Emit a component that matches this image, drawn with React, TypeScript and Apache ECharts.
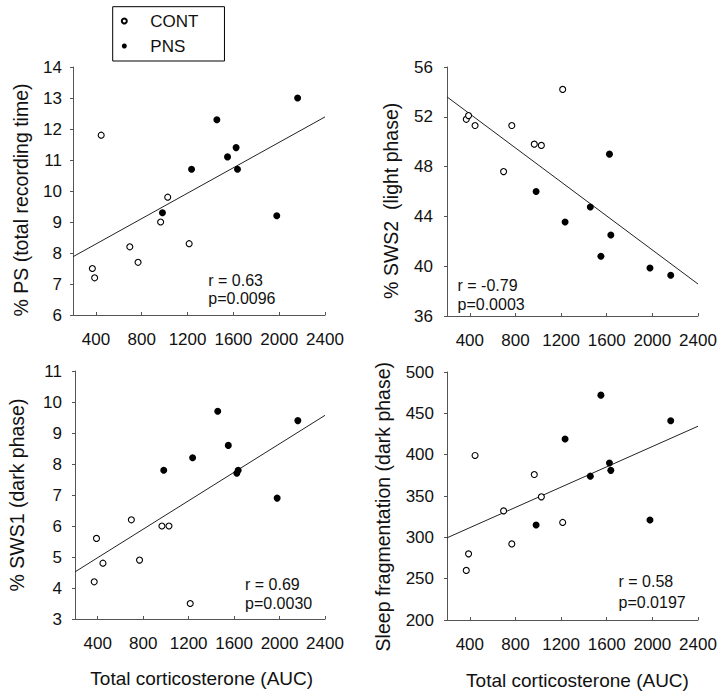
import React, { useEffect, useRef } from "react";
import * as echarts from "echarts";

// ---------- data ----------
const xTicks = [400, 800, 1200, 1600, 2000, 2400];
const contCort = [369, 389, 446, 696, 768, 965, 1027, 1214];
const pnsCort = [981, 1235, 1456, 1549, 1624, 1636, 1979, 2161];

const psCont = [7.5, 7.2, 11.8, 8.2, 7.7, 9.0, 9.8, 8.3];
const psPns = [9.3, 10.7, 12.3, 11.1, 11.4, 10.7, 9.2, 13.0];

const sws2Cont = [51.8, 52.1, 51.3, 47.6, 51.3, 49.8, 49.7, 54.2];
const sws2Pns = [46.0, 43.55, 44.75, 40.8, 49.0, 42.5, 39.85, 39.27];

const sws1Cont = [4.2, 5.6, 4.8, 6.2, 4.9, 6.0, 6.0, 3.5];
const sws1Pns = [7.8, 8.2, 9.7, 8.6, 7.7, 7.8, 6.9, 9.4];

const fragCont = [260, 280, 399, 332, 292, 376, 349, 318];
const fragPns = [315, 419, 374, 472, 390, 381, 321, 441];

const fitX = [200, 2400];
const psFit = [7.88, 12.39];
const sws2Fit = [53.6, 38.57];
const sws1Fit = [4.52, 9.57];
const fragFit = [299.4, 434.4];

const yMin = [6, 36, 3, 200];
const yMax = [14, 56, 11, 500];
const yStep = [1, 4, 1, 50];

const yTitles = [
  "% PS (total recording time)",
  "% SWS2  (light phase)",
  "% SWS1 (dark phase)",
  "Sleep fragmentation (dark phase)",
];
const xTitle = "Total corticosterone (AUC)";
const statR = ["r = 0.63", "r = -0.79", "r = 0.69", "r = 0.58"];
const statP = ["p=0.0096", "p=0.0003", "p=0.0030", "p=0.0197"];
const groupNames = ["CONT", "PNS"];

// ---------- layout ----------
const FONT = '"Liberation Sans", Arial, Helvetica, sans-serif';
const grids = [
  { left: 73, top: 67, width: 252, height: 248 },
  { left: 447, top: 67, width: 251, height: 249 },
  { left: 75, top: 371, width: 250, height: 248 },
  { left: 447, top: 372, width: 251, height: 248 },
];
const yLabelMargin = [11, 14, 13, 13];
const yTitlePos = [
  [20.8, 200],
  [390.7, 200.8],
  [17.3, 495],
  [382.7, 506.7],
];
const xTitlePos = [
  [201.7, 678.3],
  [577.5, 680.8],
];
const statPos = [
  [208.3, 280, 298],
  [457.5, 285, 304.3],
  [245, 584.5, 603.7],
  [618.5, 581.7, 602],
];

export default function App() {
  const ref = useRef<HTMLDivElement>(null);

  useEffect(() => {
    if (!ref.current) return;
    const chart = echarts.init(ref.current, undefined, { renderer: "svg" });

    const panels = [
      { cont: psCont, pns: psPns, fit: psFit },
      { cont: sws2Cont, pns: sws2Pns, fit: sws2Fit },
      { cont: sws1Cont, pns: sws1Pns, fit: sws1Fit },
      { cont: fragCont, pns: fragPns, fit: fragFit },
    ];

    const axisLine = { show: true, lineStyle: { color: "#555", width: 1 } };

    const xAxis = grids.map((_, i) => ({
      type: "value",
      gridIndex: i,
      min: 200,
      max: 2400,
      axisLine,
      splitLine: { show: false },
      axisTick: {
        show: true,
        inside: true,
        length: 3,
        customValues: xTicks,
        lineStyle: { color: "#555" },
      },
      axisLabel: {
        customValues: xTicks,
        formatter: (v: number) => String(v),
        fontSize: 17,
        fontFamily: FONT,
        color: "#111",
        margin: 16,
      },
    }));

    const yAxis = grids.map((_, i) => ({
      type: "value",
      gridIndex: i,
      min: yMin[i],
      max: yMax[i],
      interval: yStep[i],
      axisLine,
      splitLine: { show: false },
      axisTick: { show: true, inside: false, length: 3, lineStyle: { color: "#555" } },
      axisLabel: {
        formatter: (v: number) => String(v),
        fontSize: 17,
        fontFamily: FONT,
        color: "#111",
        margin: yLabelMargin[i],
      },
    }));

    const series: any[] = [];
    panels.forEach((p, i) => {
      series.push({
        type: "line",
        xAxisIndex: i,
        yAxisIndex: i,
        data: fitX.map((x, k) => [x, p.fit[k]]),
        showSymbol: false,
        symbol: "none",
        silent: true,
        lineStyle: { color: "#222", width: 1 },
        z: 1,
      });
      series.push({
        type: "scatter",
        name: groupNames[0],
        xAxisIndex: i,
        yAxisIndex: i,
        data: contCort.map((x, k) => [x, p.cont[k]]),
        symbol: "circle",
        symbolSize: 6,
        itemStyle: { color: "#fff", borderColor: "#000", borderWidth: 1.1, opacity: 1 },
        z: 3,
      });
      series.push({
        type: "scatter",
        name: groupNames[1],
        xAxisIndex: i,
        yAxisIndex: i,
        data: pnsCort.map((x, k) => [x, p.pns[k]]),
        symbol: "circle",
        symbolSize: 7,
        itemStyle: { color: "#000", opacity: 1 },
        z: 3,
      });
    });

    const txt = (text: string, x: number, y: number, size: number, align: string, rot = 0) => ({
      type: "text",
      x,
      y,
      rotation: rot,
      silent: true,
      style: {
        text,
        fontSize: size,
        fontFamily: FONT,
        fill: "#111",
        align,
        verticalAlign: "middle",
        textAlign: align,
        textVerticalAlign: "middle",
      },
    });

    const graphic: any[] = [];
    yTitles.forEach((t, i) =>
      graphic.push(txt(t, yTitlePos[i][0], yTitlePos[i][1], 19.5, "center", Math.PI / 2))
    );
    xTitlePos.forEach((p) => graphic.push(txt(xTitle, p[0], p[1], 19, "center")));
    statPos.forEach((p, i) => {
      graphic.push(txt(statR[i], p[0], p[1], 16, "left"));
      graphic.push(txt(statP[i], p[0], p[2], 16, "left"));
    });

    chart.setOption({
      animation: false,
      backgroundColor: "#fff",
      grid: grids.map((g) => ({ ...g, containLabel: false })),
      xAxis,
      yAxis,
      series,
      legend: {
        data: groupNames,
        orient: "vertical",
        left: 112.7,
        top: 6.7,
        itemWidth: 5,
        itemHeight: 5,
        itemGap: 6,
        padding: [4.8, 26, 5.5, 8.1],
        borderColor: "#000",
        borderWidth: 1,
        selectedMode: false,
        textStyle: {
          fontSize: 17,
          fontFamily: FONT,
          color: "#111",
          lineHeight: 19,
          padding: [0, 0, 0, 18.5],
        },
      },
      graphic,
    });

    return () => chart.dispose();
  }, []);

  return (
    <div
      ref={ref}
      style={{ position: "fixed", left: 0, top: 0, width: 720, height: 695, background: "#fff" }}
    />
  );
}
